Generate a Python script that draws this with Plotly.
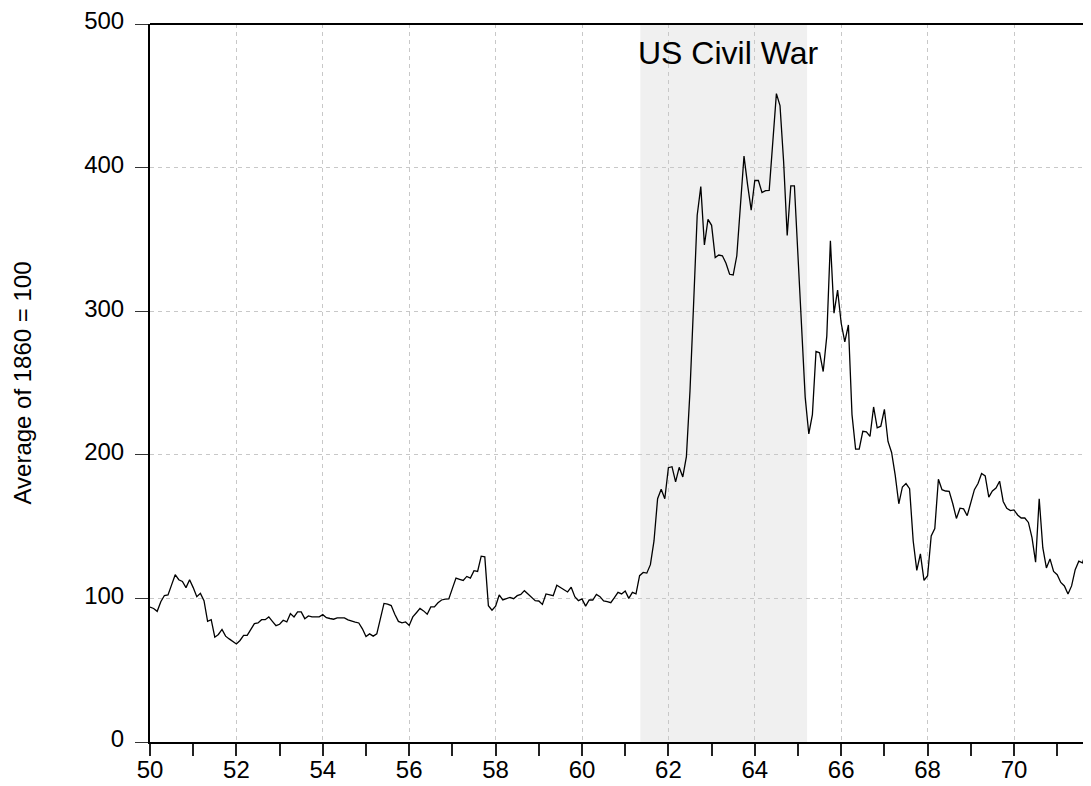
import plotly.graph_objects as go

# Monthly index values, Jan 1850 onward (Average of 1860 = 100)
start_year = 1850
values = [
    94, 93, 91, 97.7, 102, 102.4, 109.4, 116.5, 113, 111.8, 107.5, 113,
    107.5, 101.2, 103.5, 98.4, 84, 85.2, 73, 74.9, 78.4, 73.7, 71.8, 70,
    68.3, 70.7, 74.2, 74.2, 78, 82.4, 82.9, 85.2, 85.2, 87.1, 84, 81,
    82, 84.8, 83.6, 89.4, 87.1, 90.6, 90.6, 85.9, 87.8, 87.1, 87.1, 87.1,
    88.7, 86.6, 86, 85.5, 86.4, 86.4, 86.4, 85, 84, 83.5, 82.9, 78.8,
    73.5, 75.3, 73.7, 75.3, 85.9, 96.5, 96, 95, 89, 84, 83, 83.6,
    81.2, 87.1, 90, 93, 91.3, 89, 94.1, 94.1, 97, 98.9, 99.5, 99.6,
    107, 114.1, 113.3, 112.5, 115.3, 114.1, 119.3, 118.8, 129.4, 128.9, 94.9, 91.8,
    94.6, 102.4, 98.9, 99.8, 100.7, 99.8, 101.9, 102.8, 105.4, 103.1, 100.7, 98.4,
    98.2, 95.8, 103.1, 102.5, 101.9, 109.2, 107.5, 106, 104.5, 107.8, 101.2, 98.4,
    99.6, 94.6, 98.9, 98.9, 102.8, 101.2, 98.2, 97.7, 97, 100.5, 104.2, 103.1,
    105.2, 100, 104.2, 103.1, 115.8, 118.1, 117.6, 123.5, 140, 169.4, 176, 169.4,
    191, 191.7, 181.1, 191.3, 184.6, 198.7, 244.6, 305, 366.8, 386.8, 346.1, 364,
    359.8, 337.4, 339.1, 338.6, 333.4, 325.7, 325.2, 338.6, 373.9, 408, 388, 370.4,
    391, 391, 382.6, 384, 384.2, 415, 451.5, 443.2, 404.4, 352.7, 387.3, 387.3,
    340, 294, 240, 214.5, 228, 272, 271, 258, 282.6, 349, 298.6, 314.7,
    291.6, 278.7, 290.4, 228, 204, 204, 216.4, 216, 212.8, 233.3, 218.8, 219.9,
    231.7, 209.3, 201.6, 185.8, 165.9, 177.6, 180, 176.4, 140, 119.5, 131, 112.5,
    115.8, 143.5, 148.7, 183, 175.7, 174.8, 174.5, 165.9, 155.7, 162.8, 162.3, 157.6,
    167, 175.7, 180, 187, 185.3, 170.5, 174.8, 176.9, 181.6, 167.5, 162.8, 161.1,
    161.6, 158.1, 156, 156, 152.9, 142.3, 125.2, 169.4, 135.3, 121.2, 127.5, 118.8,
    116.5, 111.1, 108.7, 103.1, 108.7, 120, 125.9, 124.7, 132.4, 133.4,
]
dates = [start_year + i / 12 for i in range(len(values))]

major_years = list(range(1850, 1871, 2))
major_labels = [str(y)[2:] for y in major_years]
minor_years = list(range(1851, 1872, 2))
y_ticks = [0, 100, 200, 300, 400, 500]

war_start = 1861.35
war_end = 1865.21
war_label = "US Civil War"

FONT = "Liberation Sans, Arial, Helvetica, sans-serif"

fig = go.Figure()
fig.add_trace(go.Scatter(
    x=dates, y=values, mode="lines",
    line=dict(color="black", width=1.3),
    showlegend=False, hoverinfo="skip",
))

fig.add_shape(type="rect", xref="x", yref="paper",
              x0=war_start, x1=war_end, y0=0, y1=1,
              fillcolor="#f0f0f0", line=dict(width=0), layer="below")
fig.add_shape(type="line", xref="paper", yref="paper",
              x0=0, x1=1, y0=1, y1=1,
              line=dict(color="black", width=2))

fig.add_annotation(x=(war_start + war_end) / 2 + 0.1, y=480, xref="x", yref="y",
                   text=war_label, showarrow=False,
                   font=dict(family=FONT, size=32, color="black"))

fig.update_layout(
    width=1083, height=778,
    margin=dict(l=142, r=0, t=16, b=44, autoexpand=False),
    paper_bgcolor="white", plot_bgcolor="white",
    font=dict(family=FONT, color="black"),
)

fig.update_xaxes(
    range=[1850, 1850 + 941 / 43.2],
    tickmode="array", tickvals=major_years, ticktext=major_labels,
    ticks="outside", ticklen=12, tickwidth=1.5, tickcolor="#222",
    tickfont=dict(size=24, family=FONT, color="black"),
    ticklabelstandoff=-7,
    showline=True, linecolor="black", linewidth=2,
    showgrid=True, gridcolor="#c8c8c8", gridwidth=1, griddash="4px,4px",
    zeroline=False,
    minor=dict(tickmode="array", tickvals=minor_years, ticks="outside",
               ticklen=12, tickwidth=1.5, tickcolor="#222", showgrid=False),
)
fig.update_yaxes(
    range=[0, 500],
    tickmode="array", tickvals=y_ticks,
    ticks="outside", ticklen=13, tickwidth=1, tickcolor="#333",
    tickfont=dict(size=24, family=FONT, color="black"),
    ticklabelstandoff=6, ticklabelshift=-3, ticklabeloverflow="allow",
    showline=True, linecolor="black", linewidth=2,
    showgrid=True, gridcolor="#c8c8c8", gridwidth=1, griddash="4px,4px",
    zeroline=False,
    title=dict(text="Average of 1860 = 100", font=dict(size=24, family=FONT, color="black"),
               standoff=46),
)

fig.write_html("out.html")
